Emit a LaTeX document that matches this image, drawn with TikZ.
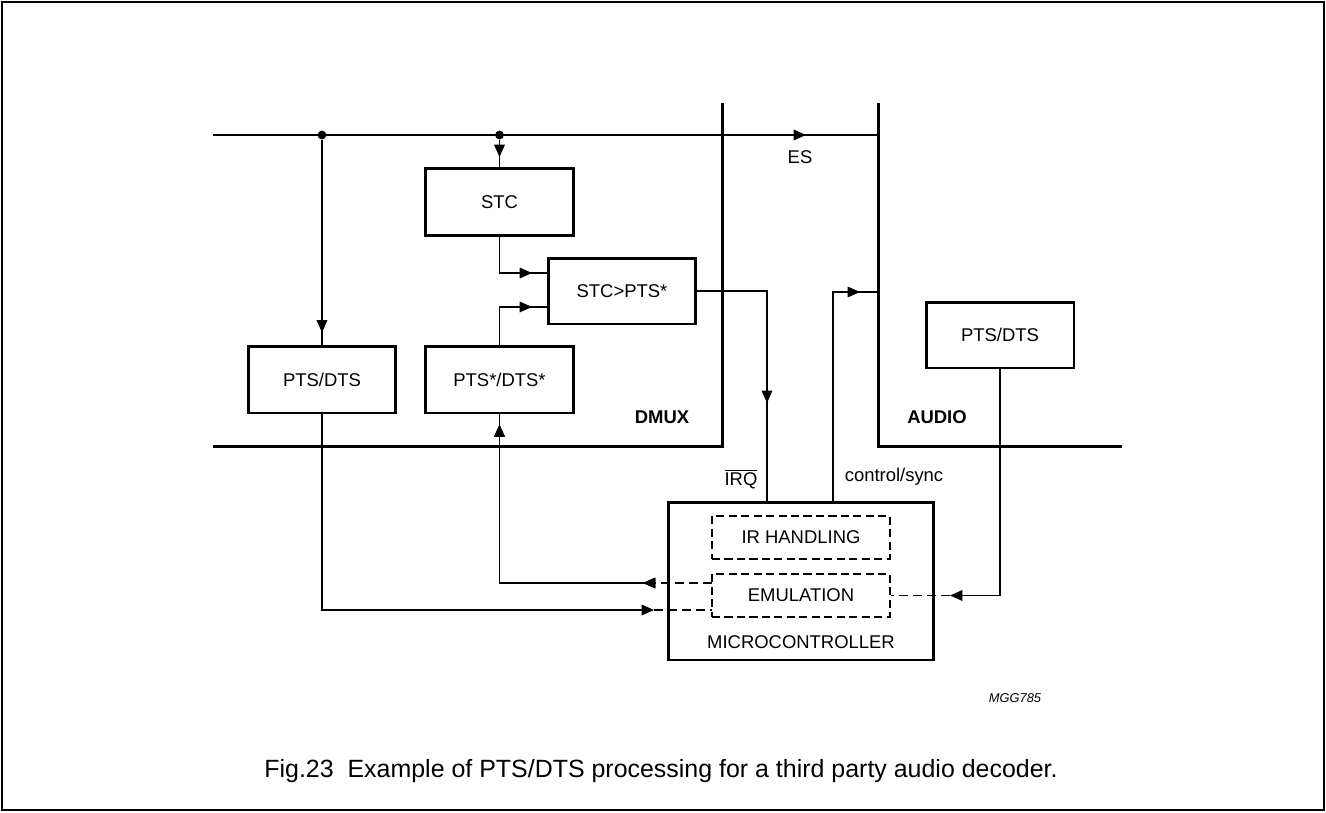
\documentclass[tikz,border=0pt]{standalone}
\usepackage{fontspec}
\setmainfont{Liberation Sans}
\usetikzlibrary{arrows.meta,decorations.markings}

\tikzset{
  >={Triangle[length=7pt,width=6pt]},
  wire/.style={line width=0.8pt},
  bus/.style={line width=1.7pt},
  block/.style={draw, line width=1.7pt, minimum width=2.96cm, minimum height=1.34cm,
    inner sep=0pt, font=\fontsize{10.5}{12}\selectfont},
  subblock/.style={draw, line width=1.6pt, dash pattern=on 4.6pt off 2.5pt,
    minimum width=3.56cm, minimum height=0.86cm, inner sep=0pt, font=\fontsize{10.5}{12}\selectfont},
  lbl/.style={inner sep=0pt, font=\fontsize{10.5}{12}\selectfont},
  dot/.style={circle, fill, inner sep=0pt, minimum size=5pt},
  tipat/.style={postaction={decorate},
    decoration={markings, mark=at position #1 with {\arrow{>}}}},
  thindash/.style={wire, dash pattern=on 5.2pt off 2.8pt},
}

\begin{document}
\begin{tikzpicture}[x=0.02cm, y=-0.02cm]
\useasboundingbox (0,0) rectangle (1326,812);
\draw[line width=0.8pt] (2,2) rectangle (1324,810);

\node[block] (stc) at (499.5,202) {STC};
\node[block, minimum height=1.32cm] (cmp) at (622,291) {STC>PTS*};
\node[block] (ptsl) at (322,379.5) {PTS/DTS};
\node[block] (ptss) at (499.5,379.5) {PTS*/DTS*};
\node[block, minimum height=1.32cm] (ptsa) at (1000,335) {PTS/DTS};
\node[draw, line width=1.7pt, minimum width=5.32cm, minimum height=3.16cm] (mcu) at (801,581) {};
\node[subblock] (irh) at (801,537.5) {IR HANDLING};
\node[subblock] (emu) at (801,595.5) {EMULATION};
\node[lbl] (mcutxt) at (801,642) {MICROCONTROLLER};

\coordinate (dmuxtop) at (722,103);
\coordinate (dmuxbot) at (722,446);
\coordinate (dmuxleft) at (213,446);
\coordinate (audtop) at (878,103);
\coordinate (audbot) at (878,446);
\coordinate (audright) at (1122,446);
\draw[bus] (dmuxtop) -- (dmuxbot) -- (dmuxleft);
\draw[bus] (audtop) -- (audbot) -- (audright);

\coordinate (esin) at (213,135);
\node[dot] (j1) at (322,135) {};
\node[dot] (j2) at (499.5,135) {};
\draw[wire, tipat=-1.44cm] (esin) -- (esin -| audtop);
\node[lbl] (es) at (800,157) {ES};

\coordinate (in1) at (548,273);
\coordinate (in2) at (548,307);
\draw[wire, tipat=-0.24cm] (j1) -- (ptsl.north);
\draw[wire, tipat=-0.2cm] (j2) -- (stc.north);
\draw[wire, tipat=-0.32cm] (stc.south) |- (in1);
\draw[wire, tipat=-0.32cm] (ptss.north) |- (in2);

\coordinate (irqin) at (767,502);
\coordinate (ctlout) at (833,502);
\coordinate (audin) at (878,292);
\draw[wire, tipat=-1.98cm] (cmp.east) -| (irqin);
\draw[wire, tipat=-0.36cm] (ctlout) |- (audin);

\coordinate (e1) at (712,583);
\coordinate (l1) at (656,583);
\coordinate (e2) at (712,610);
\coordinate (l2) at (654,610);
\coordinate (r1) at (950,595.5);
\draw[thindash] (e1) -- (l1);
\draw[wire, tipat=0.26cm, tipat=-0.2cm] (l1) -| (ptss.south);
\draw[wire, ->] (ptsl.south) |- (l2);
\draw[thindash] (l2) -- (e2);
\draw[wire, ->] (ptsa.south) |- (r1);
\draw[thindash] (r1) -- (emu.east);

\node[lbl, font=\fontsize{10.5}{12}\selectfont\bfseries] (dmux) at (662,417) {DMUX};
\node[lbl, font=\fontsize{10.5}{12}\selectfont\bfseries] (aud) at (937,417) {AUDIO};
\node[lbl] (irq) at (741,479) {$\overline{\hbox{IRQ}}$};
\node[lbl] (ctl) at (894,477) {control/sync};
\node[lbl, font=\fontsize{7.3}{9}\selectfont\itshape] (mgg) at (1015,698) {MGG785};
\node[lbl, font=\fontsize{14.2}{16}\selectfont] (cap) at (661,771)
  {Fig.23\ \ Example of PTS/DTS processing for a third party audio decoder.};
\end{tikzpicture}
\end{document}
